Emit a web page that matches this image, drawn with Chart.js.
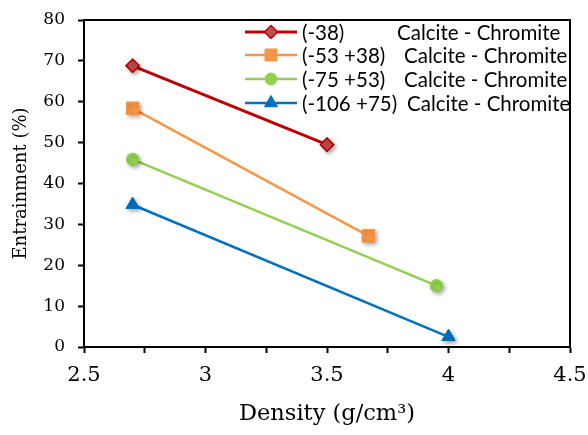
<!DOCTYPE html>
<html>
<head>
<meta charset="utf-8">
<script src="https://cdn.jsdelivr.net/npm/chart.js@4.4.1/dist/chart.umd.min.js"></script>
<style>
  html, body { margin: 0; padding: 0; background: #fff; }
  #wrap { width: 588px; height: 435px; }
</style>
</head>
<body>
<div id="wrap"><canvas id="entrainChart" width="588" height="435"></canvas></div>
<script>
// series: density (g/cm3) vs entrainment (%)
const seriesNames = ['(-38)', '(-53 +38)', '(-75 +53)', '(-106 +75)'];
const seriesSuffix = 'Calcite - Chromite';

const density38 = [2.7, 3.5];
const entrain38 = [68.8, 49.5];

const density53 = [2.7, 3.67];
const entrain53 = [58.4, 27.2];

const density75 = [2.7, 3.95];
const entrain75 = [45.9, 15.0];

const density106 = [2.7, 4.0];
const entrain106 = [34.8, 2.5];

const xTickLabels = [2.5, 3, 3.5, 4, 4.5];
const yTickLabels = [0, 10, 20, 30, 40, 50, 60, 70, 80];

function toPoints(xs, ys) {
    return xs.map((x, i) => ({ x: x, y: ys[i] }));
}

const serif = "'DejaVu Serif', serif";

const styles = [
    { color: '#C00000', fill: '#C0504D', style: 'rectRot', radius: 6.5, width: 3 },
    { color: '#F79646', fill: '#F79646', style: 'rect', radius: 8.5, width: 2.5 },
    { color: '#92D050', fill: '#92D050', style: 'circle', radius: 6, width: 2.5 },
    { color: '#0070C0', fill: '#0070C0', style: 'triangle', radius: 7.5, width: 2.5 }
];

const allData = [
    toPoints(density38, entrain38),
    toPoints(density53, entrain53),
    toPoints(density75, entrain75),
    toPoints(density106, entrain106)
];

const datasets = allData.map((pts, i) => ({
    label: seriesNames[i] + ' ' + seriesSuffix,
    data: pts,
    borderColor: styles[i].color,
    borderWidth: styles[i].width,
    backgroundColor: styles[i].fill,
    pointBackgroundColor: styles[i].fill,
    pointBorderColor: i === 0 ? styles[i].color : styles[i].fill,
    pointBorderWidth: i === 0 ? 1.5 : 1,
    pointStyle: styles[i].style,
    pointRadius: styles[i].radius,
    showLine: true,
    fill: false,
    tension: 0
}));

// box around the plot area (top and right sides)
const frame = {
    id: 'frame',
    afterDatasetsDraw(chart) {
        const a = chart.chartArea, ctx = chart.ctx;
        ctx.save();
        ctx.strokeStyle = '#000';
        ctx.lineWidth = 2;
        ctx.strokeRect(a.left, a.top, a.right - a.left, a.bottom - a.top);
        ctx.restore();
    }
};

// soft shadow under the markers
const markerShadow = {
    id: 'markerShadow',
    afterDatasetsDraw(chart) {
        const ctx = chart.ctx;
        chart.data.datasets.forEach((ds, i) => {
            const meta = chart.getDatasetMeta(i);
            ctx.save();
            ctx.shadowColor = 'rgba(0,0,0,0.35)';
            ctx.shadowBlur = 4;
            ctx.shadowOffsetX = 2;
            ctx.shadowOffsetY = 2;
            meta.data.forEach(p => p.draw(ctx, chart.chartArea));
            ctx.restore();
        });
    }
};

// legend sits inside the top right of the plot
const insideLegend = {
    id: 'insideLegend',
    afterDraw(chart) {
        const ctx = chart.ctx;
        const rowY = [32, 55, 79, 103];
        const suffixX = [397, 404, 404, 407];
        ctx.save();
        styles.forEach((s, i) => {
            const y = rowY[i];
            ctx.strokeStyle = s.color;
            ctx.lineWidth = s.width;
            ctx.beginPath();
            ctx.moveTo(245, y);
            ctx.lineTo(297, y);
            ctx.stroke();
            ctx.fillStyle = s.fill;
            ctx.strokeStyle = i === 0 ? s.color : s.fill;
            ctx.lineWidth = i === 0 ? 1.5 : 1;
            Chart.helpers.drawPoint(ctx, { pointStyle: s.style, radius: s.radius, borderWidth: ctx.lineWidth }, 271, y);
            ctx.fillStyle = '#000';
            ctx.font = "20.5px Lato, 'Liberation Sans', sans-serif";
            ctx.textBaseline = 'middle';
            ctx.textAlign = 'left';
            ctx.fillText(seriesNames[i], 302, y + 1);
            ctx.fillText(seriesSuffix, suffixX[i], y + 1);
        });
        ctx.restore();
    }
};

const ctx = document.getElementById('entrainChart').getContext('2d');

let chart = new Chart(ctx, {
    type: 'scatter',
    data: { datasets: datasets },
    options: {
        responsive: false,
        animation: false,
        layout: { autoPadding: false, padding: { top: 20, right: 18, left: 0, bottom: 0 } },
        plugins: {
            legend: { display: false },
            tooltip: { enabled: false }
        },
        scales: {
            x: {
                type: 'linear',
                min: 2.5,
                max: 4.5,
                afterFit(scale) {
                    scale.height = 88;
                    scale.paddingLeft = 0;
                    scale.paddingRight = 0;
                },
                ticks: {
                    stepSize: 0.25,
                    color: '#000',
                    padding: 10,
                    maxRotation: 0,
                    font: { family: serif, size: 21 },
                    callback: v => xTickLabels.includes(v) ? String(v) : ''
                },
                grid: {
                    drawOnChartArea: false,
                    tickLength: 6,
                    tickWidth: 2,
                    tickColor: '#000'
                },
                border: { display: true, color: '#000', width: 2 },
                title: {
                    display: true,
                    text: 'Density (g/cm³)',
                    color: '#000',
                    font: { family: serif, size: 22.5 },
                    padding: { top: 0, bottom: 7 }
                }
            },
            y: {
                min: 0,
                max: 80,
                afterFit(scale) {
                    scale.width = 84;
                    scale.paddingTop = 0;
                    scale.paddingBottom = 0;
                },
                ticks: {
                    stepSize: 5,
                    color: '#000',
                    padding: 13,
                    font: { family: serif, size: 17 },
                    callback: v => yTickLabels.includes(v) ? String(v) : ''
                },
                grid: {
                    drawOnChartArea: false,
                    tickLength: 6,
                    tickWidth: 2,
                    tickColor: '#000'
                },
                border: { display: true, color: '#000', width: 2 },
                title: {
                    display: true,
                    text: 'Entrainment (%)',
                    color: '#000',
                    font: { family: serif, size: 18 },
                    padding: { top: 11, bottom: 0 }
                }
            }
        }
    },
    plugins: [frame, markerShadow, insideLegend]
});
</script>
</body>
</html>
